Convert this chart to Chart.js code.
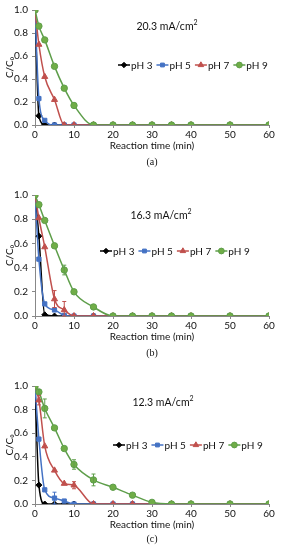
<!DOCTYPE html>
<html>
<head>
<meta charset="utf-8">
<script src="https://cdn.jsdelivr.net/npm/chart.js@4.4.1/dist/chart.umd.min.js"></script>
<style>
  body { margin: 0; background: #fff; width: 281px; height: 550px; position: relative; overflow: hidden; font-family: Lato, sans-serif; }
  .pane { position: absolute; left: 0; width: 281px; }
  .ttl { position: absolute; font-size: 10.5px; color: #111; white-space: nowrap; transform: translateX(-50%); line-height: 1; }
  .ttl sup { font-size: 7px; }
  .lab { position: absolute; font-family: "Liberation Serif", serif; font-size: 10px; color: #111; transform: translateX(-50%); line-height: 1; }
</style>
</head>
<body>
<div class="pane" style="top:0px;height:152px"><canvas id="cA"></canvas></div>
<div class="pane" style="top:185px;height:158px"><canvas id="cB"></canvas></div>
<div class="pane" style="top:376px;height:155px"><canvas id="cC"></canvas></div>
<div class="ttl" style="left:167px;top:19px">20.3 mA/cm<sup>2</sup></div>
<div class="ttl" style="left:161px;top:208px">16.3 mA/cm<sup>2</sup></div>
<div class="ttl" style="left:163px;top:395px">12.3 mA/cm<sup>2</sup></div>
<div class="lab" style="left:152px;top:157px">(a)</div>
<div class="lab" style="left:152px;top:348px">(b)</div>
<div class="lab" style="left:152px;top:534px">(c)</div>
<script>
// reaction time (min)
var time = [0, 1, 2.5, 5, 7.5, 10, 15, 20, 25, 30, 35, 40, 50, 60];
var seriesNames = ["pH 3", "pH 5", "pH 7", "pH 9"];

// (a) 20.3 mA/cm2
var a_pH3 = [1, 0.08, 0.003, 0, 0, 0, 0, 0, 0, 0, 0, 0, 0, 0];
var a_pH5 = [1, 0.23, 0.04, 0, 0, 0, 0, 0, 0, 0, 0, 0, 0, 0];
var a_pH7 = [1, 0.70, 0.42, 0.22, 0, 0, 0, 0, 0, 0, 0, 0, 0, 0];
var a_pH9 = [1, 0.86, 0.74, 0.51, 0.32, 0.17, 0, 0, 0, 0, 0, 0, 0, 0];

// (b) 16.3 mA/cm2
var b_pH3 = [1, 0.66, 0.01, 0, 0, 0, 0, 0, 0, 0, 0, 0, 0, 0];
var b_pH5 = [1, 0.47, 0.10, 0.05, 0.005, 0, 0, 0, 0, 0, 0, 0, 0, 0];
var b_pH7 = [1, 0.81, 0.57, 0.14, 0.05, 0, 0, 0, 0, 0, 0, 0, 0, 0];
var b_pH9 = [1, 0.92, 0.79, 0.58, 0.38, 0.20, 0.075, 0, 0, 0, 0, 0, 0, 0];
var b_pH7_err = [0, 0, 0, 0.07, 0.07, 0, 0, 0, 0, 0, 0, 0, 0, 0];
var b_pH9_err = [0, 0, 0, 0, 0.04, 0, 0, 0, 0, 0, 0, 0, 0, 0];

// (c) 12.3 mA/cm2
var c_pH3 = [1, 0.16, 0, 0, 0, 0, 0, 0, 0, 0, 0, 0, 0, 0];
var c_pH5 = [1, 0.55, 0.12, 0.05, 0.025, 0, 0, 0, 0, 0, 0, 0, 0, 0];
var c_pH7 = [1, 0.88, 0.49, 0.285, 0.173, 0.159, 0, 0, 0, 0, 0, 0, 0, 0];
var c_pH9 = [1, 0.95, 0.81, 0.645, 0.47, 0.335, 0.204, 0.142, 0.075, 0.014, 0, 0, 0, 0];
var c_pH5_err = [0, 0, 0, 0.05, 0, 0, 0, 0, 0, 0, 0, 0, 0, 0];
var c_pH7_err = [0, 0.04, 0, 0, 0, 0.03, 0, 0, 0, 0, 0, 0, 0, 0];
var c_pH9_err = [0, 0.02, 0.08, 0, 0, 0.04, 0.05, 0, 0, 0, 0, 0, 0, 0];

var colors = ["#000000", "#4472C4", "#C0504D", "#5E9E4A"];
var fills = ["#000000", "#4472C4", "#C0504D", "#70AD47"];
var markers = ["rectRot", "rect", "triangle", "circle"];
var radii = [3, 3, 3.5, 3.2];

function pts(ys) {
	return time.map(function(t, i){ return {x: t, y: ys[i]}; });
}

// error bars
var errPlugin = {
	id: "errbars",
	afterDatasetsDraw: function(chart) {
		var ctx = chart.ctx;
		var xs = chart.scales.x, ys = chart.scales.y;
		chart.data.datasets.forEach(function(ds){
			if (!ds.err) return;
			ctx.save();
			ctx.strokeStyle = ds.borderColor;
			ctx.lineWidth = 1;
			ds.err.forEach(function(e, i){
				if (!e) return;
				var px = xs.getPixelForValue(ds.data[i].x);
				var y1 = ys.getPixelForValue(ds.data[i].y + e);
				var y2 = ys.getPixelForValue(Math.max(ds.data[i].y - e, 0));
				ctx.beginPath();
				ctx.moveTo(px, y1); ctx.lineTo(px, y2);
				ctx.moveTo(px - 2, y1); ctx.lineTo(px + 2, y1);
				ctx.moveTo(px - 2, y2); ctx.lineTo(px + 2, y2);
				ctx.stroke();
			});
			ctx.restore();
		});
	}
};

// legend drawn inside the plot area
var legendPlugin = {
	id: "inlegend",
	afterDraw: function(chart, args, opts) {
		var ctx = chart.ctx;
		ctx.save();
		ctx.font = "10px Lato";
		ctx.textBaseline = "middle";
		var y = opts.y;
		var x = opts.x;
		[0, 1, 2, 3].forEach(function(k){
			ctx.strokeStyle = colors[k];
			ctx.lineWidth = 1.5;
			ctx.beginPath();
			ctx.moveTo(x, y); ctx.lineTo(x + 12, y);
			ctx.stroke();
			ctx.fillStyle = fills[k];
			ctx.strokeStyle = colors[k];
			ctx.lineWidth = 1;
			Chart.helpers.drawPoint(ctx, {pointStyle: markers[k], radius: radii[k] - 0.3, rotation: 0, borderWidth: 1}, x + 6, y);
			ctx.fillStyle = "#111";
			ctx.fillText(seriesNames[k], x + 13, y + 0.5);
			x += 13 + ctx.measureText(seriesNames[k]).width + opts.gap;
		});
		ctx.restore();
	}
};

function makeChart(id, series, errs, legendX, legendY) {
	var datasets = series.map(function(s, k){
		return {
			label: seriesNames[k],
			data: pts(s),
			err: errs[k],
			borderColor: colors[k],
			backgroundColor: fills[k],
			pointStyle: markers[k],
			pointRadius: radii[k],
			pointBorderWidth: 1,
			pointBorderColor: colors[k],
			borderWidth: 1.5,
			cubicInterpolationMode: "monotone",
			order: 3 - k
		};
	});
	return new Chart(document.getElementById(id), {
		type: "line",
		data: { datasets: datasets },
		plugins: [errPlugin, legendPlugin],
		options: {
			responsive: true,
			maintainAspectRatio: false,
			animation: false,
			layout: { padding: { top: 9, right: 12, left: 4, bottom: 0 } },
			plugins: {
				legend: { display: false },
				tooltip: { enabled: false },
				inlegend: { x: legendX, y: legendY, gap: 4 }
			},
			scales: {
				x: {
					type: "linear",
					min: 0, max: 60,
					ticks: { stepSize: 10, color: "#111", font: { family: "Lato", size: 10 }, padding: 1 },
					grid: { drawOnChartArea: false, tickLength: 3, color: "#888" },
					border: { color: "#888" },
					title: { display: true, text: "Reaction time (min)", color: "#111", font: { family: "Lato", size: 10 }, padding: 0 },
					afterFit: function(s){ s.height = 27; }
				},
				y: {
					min: 0, max: 1,
					ticks: { stepSize: 0.2, color: "#111", font: { family: "Lato", size: 10 }, padding: 4,
						callback: function(v){ return v.toFixed(1); } },
					grid: { drawOnChartArea: false, tickLength: 3, color: "#888" },
					border: { color: "#888" },
					title: { display: true, text: "C/C₀", color: "#111", font: { family: "Lato", size: 10 }, padding: 0 },
					afterFit: function(s){ s.width = 31; }
				}
			}
		}
	});
}

makeChart("cA", [a_pH3, a_pH5, a_pH7, a_pH9], [null, null, null, null], 118, 65);
makeChart("cB", [b_pH3, b_pH5, b_pH7, b_pH9], [null, null, b_pH7_err, b_pH9_err], 100, 66);
makeChart("cC", [c_pH3, c_pH5, c_pH7, c_pH9], [null, c_pH5_err, c_pH7_err, c_pH9_err], 113, 69);
</script>
</body>
</html>
